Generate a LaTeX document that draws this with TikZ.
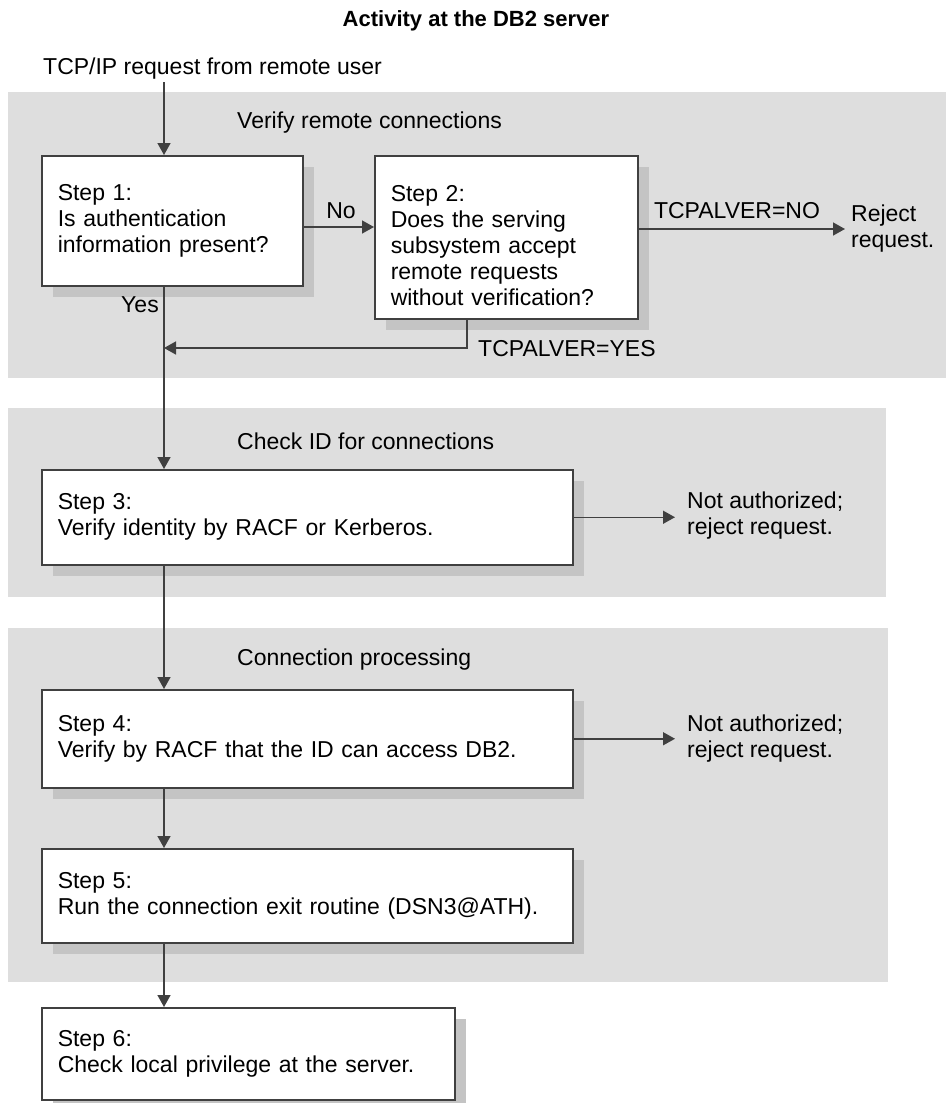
\documentclass[tikz,border=0pt]{standalone}
\usepackage{fontspec}
\setmainfont{Liberation Sans}
\usetikzlibrary{arrows.meta,shadows,calc}
\definecolor{bandc}{HTML}{DEDEDE}
\definecolor{shadc}{HTML}{C4C4C4}
\definecolor{linec}{HTML}{404040}
\begin{document}
\begin{tikzpicture}[x=1pt,y=-1pt,
  font=\fontsize{23}{26}\selectfont,
  stepbox/.style={draw=linec, line width=1.5pt, fill=white, align=left,
    anchor=north west, inner xsep=16pt, inner ysep=0pt,
    drop shadow={shadow xshift=11pt, shadow yshift=-11pt, fill=shadc, opacity=1}},
  arr/.style={draw=linec, line width=1.5pt, -{Triangle[length=12pt,width=13pt]}},
  bandbox/.style={fill=bandc, draw=none},
  lbl/.style={inner sep=0pt, text height=17pt, text depth=5pt},
  mlbl/.style={inner sep=0pt, align=left}]

\useasboundingbox (0,0) rectangle (946,1103);

% bands
\fill[bandbox] (8,92) rectangle (946,378);
\fill[bandbox] (8,408) rectangle (886,597);
\fill[bandbox] (8,628) rectangle (888,982);

% texts
\node[lbl, font=\fontsize{22}{26}\selectfont\bfseries] (title) at (476,20) {Activity at the DB2 server};
\node[lbl, anchor=west] (tcp) at (43,68) {TCP/IP request from remote user};
\node[lbl, anchor=west] (s1) at (237,122) {Verify remote connections};
\node[lbl, anchor=west] (s2) at (237,443) {Check ID for connections};
\node[lbl, anchor=west] (s3) at (237,659) {Connection processing};

% boxes
\node[stepbox, minimum width=261pt, minimum height=130pt, text width=229pt] (b1) at (41,155)
  {Step 1:\\Is authentication\\information present?};
\node[stepbox, minimum width=263pt, minimum height=163pt, text width=231pt] (b2) at (374,155)
  {\rule{0pt}{32pt}Step 2:\\Does the serving\\subsystem accept\\remote requests\\without verification?};
\node[stepbox, minimum width=531pt, minimum height=95pt, text width=499pt] (b3) at (41,469)
  {Step 3:\\Verify identity by RACF or Kerberos.};
\node[stepbox, minimum width=531pt, minimum height=98pt, text width=499pt] (b4) at (41,689)
  {Step 4:\\Verify by RACF that the ID can access DB2.};
\node[stepbox, minimum width=531pt, minimum height=94pt, text width=499pt] (b5) at (41,848)
  {Step 5:\\Run the connection exit routine (DSN3@ATH).};
\node[stepbox, minimum width=413pt, minimum height=92pt, text width=381pt] (b6) at (41,1007)
  {Step 6:\\Check local privilege at the server.};

% side labels
\node[mlbl, anchor=west, inner xsep=6pt] (rej) at (845,229) {Reject\\request.};
\node[mlbl, anchor=west, inner xsep=12pt] (na1) at (675,516) {Not authorized;\\reject request.};
\node[mlbl, anchor=west, inner xsep=12pt] (na2) at (675,739) {Not authorized;\\reject request.};
\node[lbl] (nol) at (341,212) {No};
\node[lbl] (yesl) at (140,306) {Yes};
\node[lbl] (tno) at (737,212) {TCPALVER=NO};
\node[lbl, anchor=west] (tyes) at (478,350) {TCPALVER=YES};

% coordinates
\coordinate (top) at (164,82);
\coordinate (noy) at (0,227);
\coordinate (yesx) at (467,0);
\coordinate (merge) at (164,348);

% connectors
\draw[arr] (top) -- (top |- b1.north);
\draw[arr] (b1.east |- noy) -- (b2.west |- noy);
\draw[arr] (b2.east |- rej.west) -- (rej.west);
\draw[arr] (b2.south -| yesx) |- (merge);
\draw[arr] (b1.south -| top) -- (b3.north -| top);
\draw[arr] (b3.east) -- (b3.east -| na1.west);
\draw[arr] (b3.south -| top) -- (b4.north -| top);
\draw[arr] (b4.east) -- (b4.east -| na2.west);
\draw[arr] (b4.south -| top) -- (b5.north -| top);
\draw[arr] (b5.south -| top) -- (b6.north -| top);
\end{tikzpicture}
\end{document}
